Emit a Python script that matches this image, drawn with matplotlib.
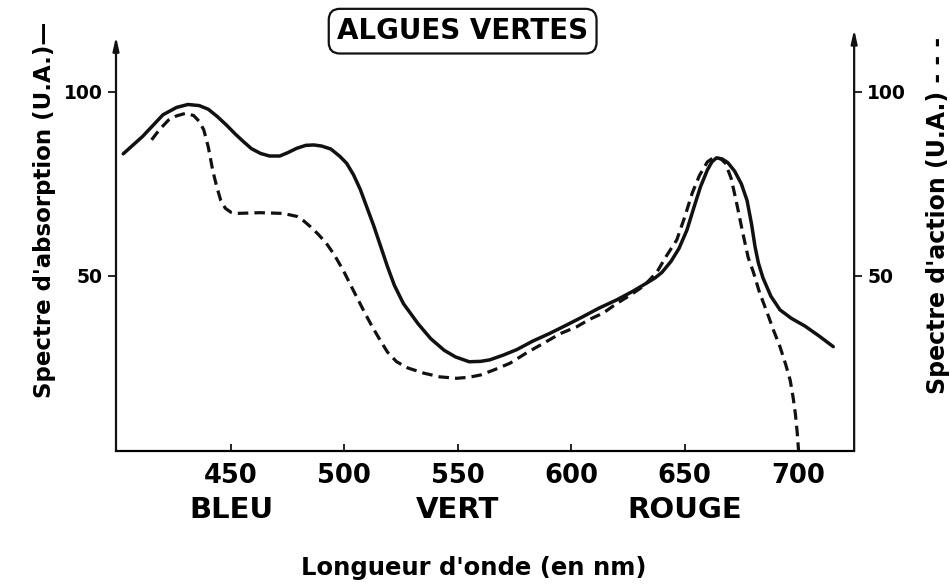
import matplotlib
matplotlib.use("Agg")
import matplotlib.pyplot as plt

plt.rcParams['font.family'] = ['DejaVu Sans']
plt.rcParams['font.weight'] = 'bold'

# spectre d'absorption (trait plein)
abs_nm = [402.5, 411, 420, 426, 431, 436, 440, 444, 448, 452, 455.5, 459, 463, 467,
          471.5, 475, 479, 483, 486.5, 490, 494, 498, 501, 504, 507, 510, 513, 516,
          519, 522, 526, 532.5, 538, 544, 549, 555, 560, 564, 570, 576, 583, 590.5,
          598, 605, 612, 620, 627, 633, 637, 640, 644, 647.5, 651, 654, 657, 660,
          662, 664, 666.5, 669, 672, 675, 677.5, 679.5, 681, 682.5, 684.5, 688, 692,
          697, 703, 709, 715.5]
abs_val = [83.2, 87.9, 93.8, 95.8, 96.6, 96.3, 95.3, 93.3, 91, 88.5, 86.5, 84.6, 83.3, 82.6,
           82.6, 83.5, 84.7, 85.5, 85.6, 85.3, 84.5, 82.5, 80.6, 77.5, 73.5, 68.5, 63.5, 58,
           52.5, 47.5, 42.5, 37, 33, 29.8, 28, 26.7, 26.8, 27.2, 28.5, 30, 32.3, 34.4,
           36.7, 38.9, 41.2, 43.5, 45.8, 48, 49.5, 51, 54, 57.5, 62.5, 68.5, 74.3, 78.8,
           81, 82.1, 81.8, 80.8, 78.5, 75, 70.5, 64, 58, 53.5, 49.5, 44.5, 40.8,
           38.5, 36.4, 33.8, 30.8]

# spectre d'action (pointilles)
act_nm = [415, 418.5, 422.5, 426, 430, 433.5, 436, 438, 440, 442, 443.7, 445.5, 447.5,
          450, 452.5, 462.8, 473, 479, 482, 485, 488.5, 492, 495.5, 499.5, 504, 508.3,
          512, 515.7, 519, 523, 528, 535, 542, 549.5, 555, 560, 566, 573, 580, 587.7,
          595, 602.4, 608, 614, 620, 626, 632, 637.7, 642, 646.5, 650, 653.3, 656.5,
          660, 663, 666, 668, 670.5, 673, 675.5, 678, 680.3, 683, 686.2, 689, 692,
          694.5, 696.5, 697.8, 698.8, 699.6, 700.2]
act_val = [87, 89.8, 92.4, 93.5, 94.2, 93.6, 92, 89.7, 85, 78.5, 74.3, 70.5, 68.4,
           67.3, 67, 67.2, 67, 66.2, 65, 63.4, 61.3, 58.9, 55.8, 51.5, 46, 40.8,
           36.5, 32.6, 29.3, 26.7, 25, 23.6, 22.6, 22.2, 22.5, 23.1, 24.5, 26.3, 29, 31.7,
           34.3, 36.2, 38.2, 39.9, 42.5, 44.8, 47.3, 51, 55.5, 59.8, 66, 72.5, 77.3,
           81, 82.3, 81.8, 80.6, 76.5, 69.5, 62, 55, 51, 45.5, 40.3, 35.5, 30.8,
           26, 21.7, 17, 12.5, 7.5, 2.5]

xticks = [450, 500, 550, 600, 650, 700]
long_ticks = [500, 600]
yticks = [50, 100]
colour_names = [(450, 'BLEU'), (550, 'VERT'), (650, 'ROUGE')]

fig = plt.figure(figsize=(9.5, 5.88), dpi=100)
ax = fig.add_axes([0.1221, 0.233, 0.777, 0.717])

ax.plot(abs_nm, abs_val, color='#111111', lw=2.5, solid_capstyle='round',
        solid_joinstyle='round')
ax.plot(act_nm, act_val, color='#111111', lw=2.3, ls=(0, (3.3, 1.9)))

ax.set_xlim(399.3, 724.7)
ax.set_ylim(2.45, 117)

for s in ['top', 'left', 'right']:
    ax.spines[s].set_visible(False)
ax.spines['bottom'].set_linewidth(1.6)

# axes verticaux avec fleches
for xa, top in [(0, 0.983), (1, 1.0)]:
    ax.annotate('', xy=(xa, top), xytext=(xa, 0), xycoords='axes fraction',
                arrowprops=dict(arrowstyle='-|>,head_length=0.8,head_width=0.18',
                                color='#111111', lw=1.6, shrinkA=0, shrinkB=0))

ax.set_xticks(xticks)
ax.set_xticklabels([str(t) for t in xticks])
ax.set_xticks(long_ticks, minor=True)
ax.tick_params(axis='x', which='major', direction='in', length=5, width=1.2,
               labelsize=18.5, pad=9)
ax.tick_params(axis='x', which='minor', direction='in', length=16, width=1.2)

ax.set_yticks(yticks)
ax.tick_params(axis='y', which='major', direction='out', length=6, width=1.2,
               labelsize=13.5, left=True, right=True, labelleft=True, labelright=True)

for nm, name in colour_names:
    ax.text(nm, -0.14, name, transform=ax.get_xaxis_transform(), ha='center',
            va='center', fontsize=21, fontweight='bold')

fig.text(0.499, 0.034, "Longueur d'onde (en nm)", ha='center', va='center',
         fontsize=17.5, fontweight='bold')
fig.text(0.047, 0.643, "Spectre d'absorption (U.A.)\u2014", rotation=90,
         ha='center', va='center', fontsize=16.5, fontweight='bold')
fig.text(0.987, 0.634, "Spectre d'action (U.A.) - - -", rotation=90,
         ha='center', va='center', fontsize=17, fontweight='bold')
fig.text(0.487, 0.947, "ALGUES VERTES", ha='center', va='center', fontsize=20,
         fontweight='bold',
         bbox=dict(boxstyle='round,pad=0.3,rounding_size=0.4', fc='white',
                   ec='#111111', lw=1.6))

fig.savefig('out.png', dpi=100, facecolor='white')
